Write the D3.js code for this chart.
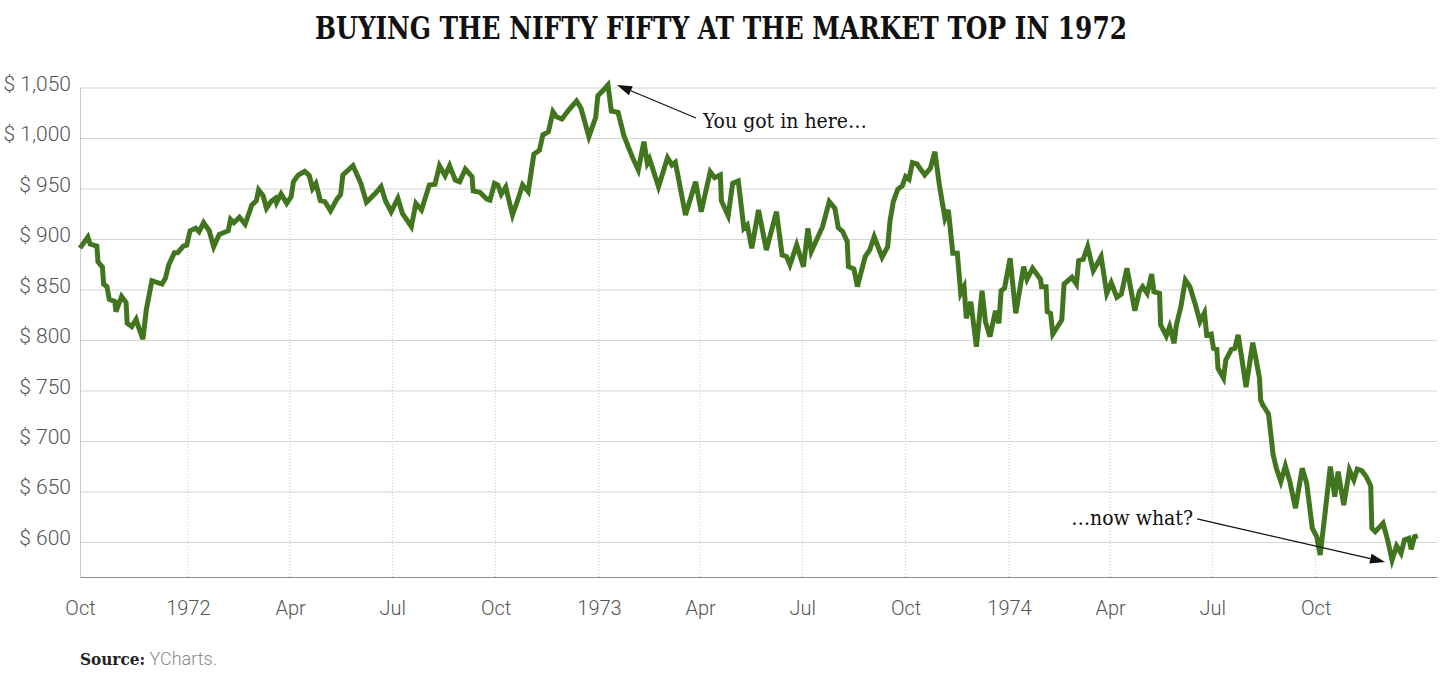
<!DOCTYPE html>
<html>
<head>
<meta charset="utf-8">
<script src="https://cdn.jsdelivr.net/npm/d3@7"></script>
<style>
  body { margin: 0; background: #fff; }
</style>
</head>
<body>
<script>
var chartTitle = 'BUYING THE NIFTY FIFTY AT THE MARKET TOP IN 1972';
var yTicks = [600, 650, 700, 750, 800, 850, 900, 950, 1000, 1050];
var xTickDates = ['1971-09-27', '1972-01-01', '1972-04-01', '1972-07-01', '1972-10-01', '1973-01-01',
  '1973-04-01', '1973-07-01', '1973-10-01', '1974-01-01', '1974-04-01', '1974-07-01', '1974-10-01'];
var xTickLabels = ['Oct', '1972', 'Apr', 'Jul', 'Oct', '1973', 'Apr', 'Jul', 'Oct', '1974', 'Apr', 'Jul', 'Oct'];

// value of the basket
var prices = [
  ['1971-09-27', 891], ['1971-10-04', 902], ['1971-10-06', 895], ['1971-10-12', 893], ['1971-10-13', 877.5],
  ['1971-10-17', 872], ['1971-10-18', 855.4], ['1971-10-21', 852.8], ['1971-10-23', 840.3], ['1971-10-28', 838],
  ['1971-10-29', 828], ['1971-11-03', 843], ['1971-11-07', 837], ['1971-11-08', 816.5], ['1971-11-12', 813.2],
  ['1971-11-16', 820.5], ['1971-11-18', 813.2], ['1971-11-22', 800.7], ['1971-11-25', 829.7], ['1971-11-30', 858.7],
  ['1971-12-09', 855.4], ['1971-12-12', 861.1], ['1971-12-15', 874.3], ['1971-12-20', 886.4], ['1971-12-23', 886.4],
  ['1971-12-28', 893], ['1971-12-31', 893.8], ['1972-01-03', 908.2], ['1972-01-08', 910.6], ['1972-01-11', 907.2],
  ['1972-01-15', 916.1], ['1972-01-20', 908.2], ['1972-01-24', 892.4], ['1972-01-29', 904.6], ['1972-02-06', 908.2],
  ['1972-02-08', 919.5], ['1972-02-11', 916.1], ['1972-02-16', 921.5], ['1972-02-21', 914.6], ['1972-02-27', 933.7],
  ['1972-03-02', 937.9], ['1972-03-04', 948.5], ['1972-03-08', 942.6], ['1972-03-11', 930.4], ['1972-03-15', 937],
  ['1972-03-19', 940.3], ['1972-03-20', 936], ['1972-03-24', 944.6], ['1972-03-29', 935.3], ['1972-04-02', 941.9],
  ['1972-04-04', 956.7], ['1972-04-08', 963], ['1972-04-14', 967], ['1972-04-18', 963], ['1972-04-21', 950],
  ['1972-04-24', 955], ['1972-04-28', 938], ['1972-05-02', 937], ['1972-05-07', 928], ['1972-05-13', 940],
  ['1972-05-16', 944], ['1972-05-18', 963.4], ['1972-05-27', 972.6], ['1972-06-03', 955.1], ['1972-06-08', 936.3],
  ['1972-06-16', 945.2], ['1972-06-21', 951.8], ['1972-06-25', 937.6], ['1972-06-30', 927], ['1972-07-06', 940.3],
  ['1972-07-10', 925.4], ['1972-07-15', 917.2], ['1972-07-18', 912.2], ['1972-07-22', 935.3], ['1972-07-27', 928.7],
  ['1972-08-03', 953.5], ['1972-08-08', 954.2], ['1972-08-12', 972.6], ['1972-08-17', 962.7], ['1972-08-21', 972.6],
  ['1972-08-26', 958.4], ['1972-08-30', 956.7], ['1972-09-04', 969.3], ['1972-09-10', 961.7], ['1972-09-11', 947.5],
  ['1972-09-17', 946.2], ['1972-09-23', 939.6], ['1972-09-26', 938.6], ['1972-09-30', 955.1], ['1972-10-03', 953.5],
  ['1972-10-06', 944.3], ['1972-10-10', 951.5], ['1972-10-16', 923.8], ['1972-10-21', 939.6], ['1972-10-25', 953.5],
  ['1972-10-30', 946.8], ['1972-11-04', 983.9], ['1972-11-09', 987.8], ['1972-11-12', 1003], ['1972-11-17', 1006.2],
  ['1972-11-21', 1026], ['1972-11-24', 1021.1], ['1972-11-29', 1018.8], ['1972-12-05', 1027.7], ['1972-12-12', 1036.6],
  ['1972-12-16', 1029.4], ['1972-12-23', 1001.3], ['1972-12-29', 1020.1], ['1972-12-31', 1041.9], ['1973-01-05', 1047.5],
  ['1973-01-09', 1052.5], ['1973-01-12', 1026.7], ['1973-01-18', 1025.4], ['1973-01-23', 1003], ['1973-01-27', 991.4],
  ['1973-01-31', 980.5], ['1973-02-05', 968.3], ['1973-02-10', 996.3], ['1973-02-13', 975], ['1973-02-15', 979.2],
  ['1973-02-23', 951.8], ['1973-03-03', 980.5], ['1973-03-07', 973.3], ['1973-03-10', 976], ['1973-03-19', 923.8],
  ['1973-03-28', 956.7], ['1973-04-02', 927], ['1973-04-10', 966.6], ['1973-04-14', 960.7], ['1973-04-19', 963.4],
  ['1973-04-20', 937.6], ['1973-04-26', 923.1], ['1973-04-30', 955.1], ['1973-05-05', 957.4], ['1973-05-10', 910.6],
  ['1973-05-13', 913.9], ['1973-05-17', 890.8], ['1973-05-23', 928.7], ['1973-05-30', 889.1], ['1973-06-08', 927],
  ['1973-06-13', 884.2], ['1973-06-17', 882.5], ['1973-06-20', 874.3], ['1973-06-26', 894.1], ['1973-07-02', 872.6],
  ['1973-07-06', 910.6], ['1973-07-09', 887.5], ['1973-07-19', 912.2], ['1973-07-25', 937], ['1973-07-30', 930.4],
  ['1973-08-02', 911.2], ['1973-08-06', 907.2], ['1973-08-10', 897.3], ['1973-08-11', 872.6], ['1973-08-16', 870.3],
  ['1973-08-19', 852.8], ['1973-08-26', 882.5], ['1973-08-30', 889.1], ['1973-09-03', 902.3], ['1973-09-10', 881.9],
  ['1973-09-15', 892.4], ['1973-09-17', 917.2], ['1973-09-20', 937], ['1973-09-24', 949.2], ['1973-09-28', 952.5],
  ['1973-10-01', 961.7], ['1973-10-04', 959.1], ['1973-10-07', 975.6], ['1973-10-11', 974.3], ['1973-10-18', 963.4],
  ['1973-10-23', 970], ['1973-10-27', 986.4], ['1973-10-31', 953.5], ['1973-11-05', 920.5], ['1973-11-08', 928.7],
  ['1973-11-12', 885.8], ['1973-11-16', 885.8], ['1973-11-19', 846.2], ['1973-11-22', 852.8], ['1973-11-24', 821.5],
  ['1973-11-28', 837.9], ['1973-12-03', 793.4], ['1973-12-08', 848.8], ['1973-12-11', 818.2], ['1973-12-15', 803.3],
  ['1973-12-20', 829], ['1973-12-23', 816.5], ['1973-12-25', 848.8], ['1973-12-28', 851.2], ['1974-01-02', 880.9],
  ['1974-01-07', 826.4], ['1974-01-14', 872.6], ['1974-01-17', 860.1], ['1974-01-22', 871], ['1974-01-29', 860.1],
  ['1974-01-30', 852.8], ['1974-02-03', 852.8], ['1974-02-04', 828], ['1974-02-07', 826.4], ['1974-02-09', 805.9],
  ['1974-02-17', 819.8], ['1974-02-19', 855.4], ['1974-02-26', 862.1], ['1974-03-02', 855.4], ['1974-03-04', 878.5],
  ['1974-03-08', 879.8], ['1974-03-12', 892.4], ['1974-03-17', 868.6], ['1974-03-24', 882.5], ['1974-03-29', 846.2],
  ['1974-04-02', 856.7], ['1974-04-07', 842.3], ['1974-04-11', 845.5], ['1974-04-16', 871], ['1974-04-23', 829],
  ['1974-04-27', 847.8], ['1974-04-30', 852.8], ['1974-05-04', 846.2], ['1974-05-08', 865.3], ['1974-05-10', 847.8],
  ['1974-05-15', 846.2], ['1974-05-16', 814.9], ['1974-05-21', 804], ['1974-05-24', 813.2], ['1974-05-28', 796.7],
  ['1974-05-30', 814.9], ['1974-06-03', 833], ['1974-06-07', 859.4], ['1974-06-11', 852.8], ['1974-06-16', 834.6],
  ['1974-06-20', 818.1], ['1974-06-24', 827], ['1974-06-26', 805], ['1974-06-30', 805.9], ['1974-07-02', 791.8],
  ['1974-07-05', 790.8], ['1974-07-06', 772], ['1974-07-11', 762.1], ['1974-07-13', 780.2], ['1974-07-18', 790.8],
  ['1974-07-21', 791.8], ['1974-07-24', 805], ['1974-07-27', 783.5], ['1974-07-31', 753.2], ['1974-08-06', 797.3],
  ['1974-08-09', 780.2], ['1974-08-12', 762.1], ['1974-08-13', 740.6], ['1974-08-15', 735.6], ['1974-08-20', 726.7],
  ['1974-08-22', 707.6], ['1974-08-24', 687.1], ['1974-08-27', 672.9], ['1974-08-31', 659.7], ['1974-09-04', 675.2],
  ['1974-09-08', 659.7], ['1974-09-13', 633.4], ['1974-09-19', 672.9], ['1974-09-23', 658.1], ['1974-09-28', 613.6],
  ['1974-10-02', 605.2], ['1974-10-05', 587.1], ['1974-10-09', 625.1], ['1974-10-14', 674.6], ['1974-10-18', 644.9],
  ['1974-10-21', 669.6], ['1974-10-26', 636.6], ['1974-10-31', 671.3], ['1974-11-04', 661.4], ['1974-11-07', 672],
  ['1974-11-11', 670.6], ['1974-11-15', 664.7], ['1974-11-19', 655.4], ['1974-11-20', 613.6], ['1974-11-23', 610.2],
  ['1974-11-30', 618.5], ['1974-12-04', 602], ['1974-12-08', 582.2], ['1974-12-12', 596.1], ['1974-12-16', 588.8],
  ['1974-12-19', 602], ['1974-12-23', 603.6], ['1974-12-25', 592.7], ['1974-12-28', 605.2], ['1974-12-31', 606]
];

var noteTexts = ['You got in here\u2026', '\u2026now what?'];
var noteDates = ['1973-01-09', '1974-12-08'];

var w = 1440;
var h = 682;
var padLeft = 80, padRight = 1437, padTop = 87.5, padBottom = 577;
var slab = '"Roboto Slab", "DejaVu Serif Condensed", "DejaVu Serif", serif';
var sans = 'Roboto, "Open Sans", sans-serif';

var parse = d3.timeParse('%Y-%m-%d');
var data = prices.map(d => ({ date: parse(d[0]), value: d[1] }));

var svg = d3.select('body').append('svg')
  .attr('width', w)
  .attr('height', h);

var xScale = d3.scaleTime()
  .domain([parse('1971-09-27'), parse('1975-01-17')])
  .range([padLeft, padRight]);

var yScale = d3.scaleLinear()
  .domain([565.3, 1050])
  .range([padBottom, padTop]);

// horizontal grid
var yGrid = svg.append('g')
  .attr('transform', 'translate(' + padLeft + ',0)')
  .call(d3.axisLeft(yScale).tickValues(yTicks).tickSize(-(padRight - padLeft)).tickFormat(''));
yGrid.select('.domain').remove();
yGrid.selectAll('line').attr('stroke', '#d4d4d4');

// y labels
var yAxis = svg.append('g')
  .attr('transform', 'translate(' + padLeft + ',0)')
  .call(d3.axisLeft(yScale).tickValues(yTicks).tickSize(0).tickSizeOuter(0).tickPadding(9)
    .tickFormat(d => '$ ' + d3.format(',')(d)));
yAxis.select('.domain').attr('stroke', '#c8c8c8');
yAxis.selectAll('text')
  .attr('dy', '0.12em')
  .attr('font-family', sans)
  .attr('font-weight', 300)
  .attr('font-size', 21)
  .attr('fill', '#555');

// dotted verticals run from the axis up to the line
var bisect = d3.bisector(d => d.date).left;
function valueAt(date) {
  var i = bisect(data, date);
  if (i <= 0) return data[0].value;
  if (i >= data.length) return data[data.length - 1].value;
  var a = data[i - 1], b = data[i];
  var t = (date - a.date) / (b.date - a.date);
  return a.value + t * (b.value - a.value);
}
svg.append('g').selectAll('line')
  .data(xTickDates.slice(1).map(parse))
  .enter()
  .append('line')
  .attr('x1', d => xScale(d))
  .attr('x2', d => xScale(d))
  .attr('y1', padBottom)
  .attr('y2', d => yScale(valueAt(d)))
  .attr('stroke', '#c4c4c4')
  .attr('stroke-dasharray', '1,2');

// x axis
var xAxis = svg.append('g')
  .attr('transform', 'translate(0,' + padBottom + ')')
  .call(d3.axisBottom(xScale).tickValues(xTickDates.map(parse)).tickSize(0).tickSizeOuter(0).tickPadding(24)
    .tickFormat((d, i) => xTickLabels[i]));
xAxis.select('.domain').attr('stroke', '#8c8c8c').attr('stroke-width', 1.2);
xAxis.selectAll('text')
  .attr('font-family', sans)
  .attr('font-weight', 300)
  .attr('font-size', 20)
  .attr('fill', '#555');

// the line
var line = d3.line()
  .x(d => xScale(d.date))
  .y(d => yScale(d.value));

svg.append('path')
  .datum(data)
  .attr('d', line)
  .attr('fill', 'none')
  .attr('stroke', '#41761f')
  .attr('stroke-width', 5);

// annotations
function arrow(x1, y1, x2, y2) {
  var g = svg.append('g');
  var ang = Math.atan2(y2 - y1, x2 - x1);
  var len = 15, half = 5;
  var bx = x2 - len * Math.cos(ang), by = y2 - len * Math.sin(ang);
  g.append('line')
    .attr('x1', x1).attr('y1', y1).attr('x2', bx).attr('y2', by)
    .attr('stroke', '#111').attr('stroke-width', 1.2);
  g.append('path')
    .attr('d', 'M' + x2 + ',' + y2 +
      'L' + (bx + half * Math.sin(ang)) + ',' + (by - half * Math.cos(ang)) +
      'L' + (bx - half * Math.sin(ang)) + ',' + (by + half * Math.cos(ang)) + 'Z')
    .attr('fill', '#111');
}

var peak = data.find(d => +d.date === +parse(noteDates[0]));
var px = xScale(peak.date), py = yScale(peak.value);
arrow(px + 88, py + 33, px + 9, py);
svg.append('text')
  .attr('x', px + 95)
  .attr('y', py + 43)
  .attr('font-family', slab)
  .attr('font-size', 21)
  .attr('fill', '#111')
  .text(noteTexts[0]);

var low = data.find(d => +d.date === +parse(noteDates[1]));
var lx = xScale(low.date), ly = yScale(low.value);
arrow(lx - 195, ly - 41, lx - 7, ly + 2);
svg.append('text')
  .attr('x', lx - 199)
  .attr('y', ly - 35)
  .attr('text-anchor', 'end')
  .attr('font-family', slab)
  .attr('font-size', 21)
  .attr('fill', '#111')
  .text(noteTexts[1]);

// title
svg.append('text')
  .attr('x', 315)
  .attr('y', 38.5)
  .attr('textLength', 812)
  .attr('lengthAdjust', 'spacingAndGlyphs')
  .attr('font-family', slab)
  .attr('font-weight', 'bold')
  .attr('font-size', 31)
  .attr('fill', '#111')
  .text(chartTitle);

// source
var src = svg.append('text')
  .attr('x', padLeft)
  .attr('y', 665);
src.append('tspan')
  .attr('font-family', slab)
  .attr('font-size', 17)
  .attr('font-weight', 600)
  .attr('fill', '#222')
  .text('Source:');
src.append('tspan')
  .attr('font-family', sans)
  .attr('font-size', 18)
  .attr('font-weight', 300)
  .attr('fill', '#8a8a8a')
  .text(' YCharts.');
</script>
</body>
</html>
